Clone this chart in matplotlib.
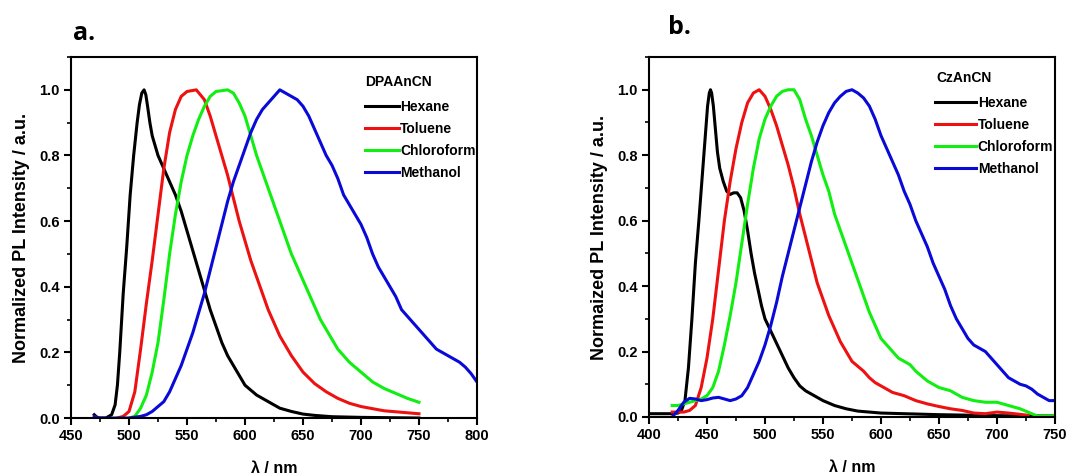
import numpy as np
import matplotlib
matplotlib.use('Agg')
import matplotlib.pyplot as plt
from matplotlib.ticker import MultipleLocator, FormatStrFormatter

plt.rcParams['font.family'] = ['Liberation Sans', 'DejaVu Sans']
plt.rcParams['font.weight'] = 'bold'

solvents = ['Hexane', 'Toluene', 'Chloroform', 'Methanol']
colors = ['#000000', '#ee1111', '#11ee11', '#0a0ad8']

# ---- panel a: DPAAnCN ----
a_hex_x = [470, 473, 480, 485, 488, 490, 492, 495, 498, 501, 504, 507, 509, 511, 513, 514.5, 516, 518,
           520, 525, 530, 535, 540, 545, 550, 555, 560, 565, 570, 575, 580, 585, 590, 595, 600, 605,
           610, 615, 620, 630, 640, 650, 660, 675, 700, 750]
a_hex_y = [0.01, 0.0, 0.0, 0.01, 0.04, 0.1, 0.2, 0.38, 0.52, 0.68, 0.8, 0.9, 0.955, 0.99, 1.0, 0.985,
           0.95, 0.9, 0.86, 0.8, 0.76, 0.72, 0.68, 0.63, 0.57, 0.51, 0.45, 0.39, 0.33, 0.28, 0.23,
           0.19, 0.16, 0.13, 0.10, 0.085, 0.07, 0.06, 0.05, 0.03, 0.02, 0.012, 0.008, 0.004, 0.002, 0.0]

a_tol_x = [490, 495, 500, 505, 510, 515, 520, 525, 530, 535, 540, 545, 550, 558, 565, 570, 575, 580,
           585, 590, 595, 600, 605, 610, 615, 620, 625, 630, 640, 650, 660, 670, 680, 690, 700, 720, 750]
a_tol_y = [0.0, 0.005, 0.02, 0.08, 0.21, 0.35, 0.48, 0.62, 0.76, 0.87, 0.94, 0.98, 0.995, 1.0, 0.97,
           0.92, 0.86, 0.8, 0.74, 0.67, 0.6, 0.54, 0.48, 0.43, 0.38, 0.33, 0.29, 0.25, 0.19, 0.14,
           0.105, 0.08, 0.06, 0.045, 0.035, 0.022, 0.013]

a_chl_x = [500, 505, 510, 515, 520, 525, 530, 535, 540, 545, 550, 555, 560, 565, 570, 575, 585, 590,
           595, 600, 605, 610, 615, 620, 625, 630, 635, 640, 645, 650, 655, 660, 665, 670, 675, 680,
           690, 700, 710, 720, 730, 740, 750]
a_chl_y = [0.0, 0.005, 0.03, 0.07, 0.14, 0.23, 0.36, 0.5, 0.62, 0.72, 0.8, 0.86, 0.91, 0.95, 0.98,
           0.995, 1.0, 0.99, 0.96, 0.92, 0.86, 0.8, 0.75, 0.7, 0.65, 0.6, 0.55, 0.5, 0.46, 0.42, 0.38,
           0.34, 0.3, 0.27, 0.24, 0.21, 0.17, 0.14, 0.11, 0.09, 0.075, 0.06, 0.048]

a_met_x = [470, 475, 500, 510, 515, 520, 525, 530, 535, 540, 545, 550, 555, 560, 565, 570, 575, 580,
           585, 590, 595, 600, 605, 610, 615, 620, 625, 630, 635, 640, 645, 650, 655, 660, 665, 670,
           675, 680, 685, 690, 695, 700, 705, 710, 715, 720, 725, 730, 735, 740, 745, 750, 755, 760,
           765, 770, 775, 780, 785, 790, 795, 800]
a_met_y = [0.005, 0.0, 0.0, 0.005, 0.01, 0.02, 0.035, 0.05, 0.08, 0.12, 0.16, 0.21, 0.26, 0.32, 0.38,
           0.45, 0.52, 0.59, 0.66, 0.72, 0.77, 0.82, 0.87, 0.91, 0.94, 0.96, 0.98, 1.0, 0.99, 0.98,
           0.97, 0.95, 0.92, 0.88, 0.84, 0.8, 0.77, 0.73, 0.68, 0.65, 0.62, 0.59, 0.55, 0.5, 0.46,
           0.43, 0.4, 0.37, 0.33, 0.31, 0.29, 0.27, 0.25, 0.23, 0.21, 0.2, 0.19, 0.18, 0.17, 0.155,
           0.135, 0.11]

# ---- panel b: CzAnCN ----
b_hex_x = [400, 420, 425, 428, 431, 434, 437, 440, 443, 446, 449, 450.5, 452, 453, 454, 455.5, 457,
           459, 461, 464, 467, 470, 473, 476, 479, 482, 485, 488, 491, 494, 497, 500, 504, 508, 512,
           516, 520, 525, 530, 535, 540, 550, 560, 570, 580, 600, 650, 700, 750]
b_hex_y = [0.01, 0.01, 0.012, 0.02, 0.05, 0.15, 0.3, 0.47, 0.6, 0.74, 0.88, 0.95, 0.99, 1.0, 0.99,
           0.95, 0.89, 0.81, 0.76, 0.72, 0.69, 0.68, 0.685, 0.685, 0.67, 0.63, 0.57, 0.5, 0.44, 0.39,
           0.34, 0.3, 0.27, 0.24, 0.21, 0.18, 0.15, 0.12, 0.095, 0.08, 0.07, 0.05, 0.035, 0.025,
           0.018, 0.012, 0.007, 0.004, 0.003]

b_tol_x = [420, 430, 435, 440, 445, 450, 455, 460, 465, 470, 475, 480, 485, 490, 495, 500, 505, 510,
           515, 520, 525, 530, 535, 540, 545, 550, 555, 560, 565, 570, 575, 580, 585, 590, 595, 600,
           610, 620, 630, 640, 650, 660, 670, 680, 690, 700, 710, 720, 727]
b_tol_y = [0.015, 0.015, 0.02, 0.035, 0.09, 0.18, 0.3, 0.45, 0.6, 0.72, 0.82, 0.9, 0.96, 0.99, 1.0,
           0.98, 0.94, 0.89, 0.83, 0.77, 0.7, 0.62, 0.55, 0.48, 0.41, 0.36, 0.31, 0.27, 0.23, 0.2,
           0.17, 0.155, 0.14, 0.12, 0.105, 0.095, 0.075, 0.065, 0.05, 0.04, 0.032, 0.025, 0.02, 0.012,
           0.01, 0.015, 0.012, 0.008, 0.005]

b_chl_x = [420, 425, 430, 435, 440, 445, 450, 455, 460, 465, 470, 475, 480, 485, 490, 495, 500, 505,
           510, 515, 520, 525, 530, 535, 540, 545, 550, 555, 560, 565, 570, 575, 580, 585, 590, 595,
           600, 605, 610, 615, 620, 625, 630, 640, 650, 660, 670, 680, 690, 700, 710, 720, 730, 735, 750]
b_chl_y = [0.035, 0.035, 0.04, 0.045, 0.05, 0.055, 0.065, 0.09, 0.14, 0.22, 0.31, 0.41, 0.53, 0.65,
           0.76, 0.85, 0.91, 0.95, 0.98, 0.995, 1.0, 1.0, 0.97, 0.91, 0.86, 0.8, 0.74, 0.69, 0.62,
           0.57, 0.52, 0.47, 0.42, 0.37, 0.32, 0.28, 0.24, 0.22, 0.2, 0.18, 0.17, 0.16, 0.14, 0.11,
           0.09, 0.08, 0.06, 0.05, 0.045, 0.045, 0.035, 0.025, 0.01, 0.003, 0.003]

b_met_x = [420, 425, 430, 435, 440, 445, 450, 455, 460, 465, 470, 475, 480, 485, 490, 495, 500, 505,
           510, 515, 520, 525, 530, 535, 540, 545, 550, 555, 560, 565, 570, 575, 580, 585, 590, 595,
           600, 605, 610, 615, 620, 625, 630, 635, 640, 645, 650, 655, 660, 665, 670, 675, 680, 685,
           690, 695, 700, 705, 710, 715, 720, 725, 730, 735, 740, 745, 750]
b_met_y = [0.0, 0.02, 0.045, 0.057, 0.055, 0.05, 0.053, 0.058, 0.06, 0.055, 0.05, 0.055, 0.065, 0.09,
           0.13, 0.17, 0.22, 0.28, 0.35, 0.43, 0.5, 0.57, 0.64, 0.71, 0.78, 0.84, 0.89, 0.93, 0.96,
           0.98, 0.995, 1.0, 0.99, 0.975, 0.95, 0.91, 0.86, 0.82, 0.78, 0.74, 0.69, 0.65, 0.6, 0.56,
           0.52, 0.47, 0.43, 0.39, 0.34, 0.3, 0.27, 0.24, 0.22, 0.21, 0.2, 0.18, 0.16, 0.14, 0.12,
           0.11, 0.1, 0.095, 0.085, 0.07, 0.06, 0.05, 0.05]


def draw_panel(ax, curves, xlim, title, ylabel, letter, letter_xy, title_xy, leg_anchor, handle_len):
    for (x, y), label, color in zip(curves, solvents, colors):
        ax.plot(x, y, color=color, lw=2.2, label=label)
    ax.set_xlim(*xlim)
    ax.set_ylim(0, 1.1)
    ax.xaxis.set_major_locator(MultipleLocator(50))
    ax.xaxis.set_minor_locator(MultipleLocator(25))
    ax.yaxis.set_major_locator(MultipleLocator(0.2))
    ax.yaxis.set_minor_locator(MultipleLocator(0.1))
    ax.yaxis.set_major_formatter(FormatStrFormatter('%.1f'))
    ax.tick_params(which='major', direction='out', length=5, width=1.5, labelsize=10.5, pad=3)
    ax.tick_params(which='minor', direction='out', length=3, width=1.2)
    for s in ax.spines.values():
        s.set_linewidth(1.5)
    ax.set_xlabel('λ / nm', fontsize=11.5, fontweight='bold', labelpad=13)
    ax.set_ylabel(ylabel, fontsize=13, fontweight='bold', labelpad=7)
    # legend title drawn separately so the gap to the first entry matches
    ax.text(title_xy[0], title_xy[1], title, transform=ax.transAxes, fontsize=10,
            fontweight='bold', va='center', ha='left')
    ax.legend(loc='upper left', bbox_to_anchor=leg_anchor, frameon=False, fontsize=10,
              handlelength=handle_len, handletextpad=0.1, labelspacing=0.58,
              borderpad=0, borderaxespad=0)
    ax.text(letter_xy[0], letter_xy[1], letter, transform=ax.transAxes, fontsize=18,
            fontweight='bold', family='Open Sans', va='baseline', ha='left')


fig = plt.figure(figsize=(10.86, 4.76), dpi=100)
ax_a = fig.add_axes([0.0654, 0.1218, 0.3738, 0.7584])
ax_b = fig.add_axes([0.5976, 0.1240, 0.3738, 0.7562])

draw_panel(ax_a, [(a_hex_x, a_hex_y), (a_tol_x, a_tol_y), (a_chl_x, a_chl_y), (a_met_x, a_met_y)],
           (450, 800), 'DPAAnCN', 'Normalized PL Intensity / a.u.', 'a.',
           (0.005, 1.047), (0.724, 0.931), (0.724, 0.881), 2.45)
draw_panel(ax_b, [(b_hex_x, b_hex_y), (b_tol_x, b_tol_y), (b_chl_x, b_chl_y), (b_met_x, b_met_y)],
           (400, 750), 'CzAnCN', 'Normaized PL Intensity / a.u.', 'b.',
           (0.047, 1.064), (0.709, 0.942), (0.704, 0.892), 3.0)

fig.savefig('out.png', dpi=100)
